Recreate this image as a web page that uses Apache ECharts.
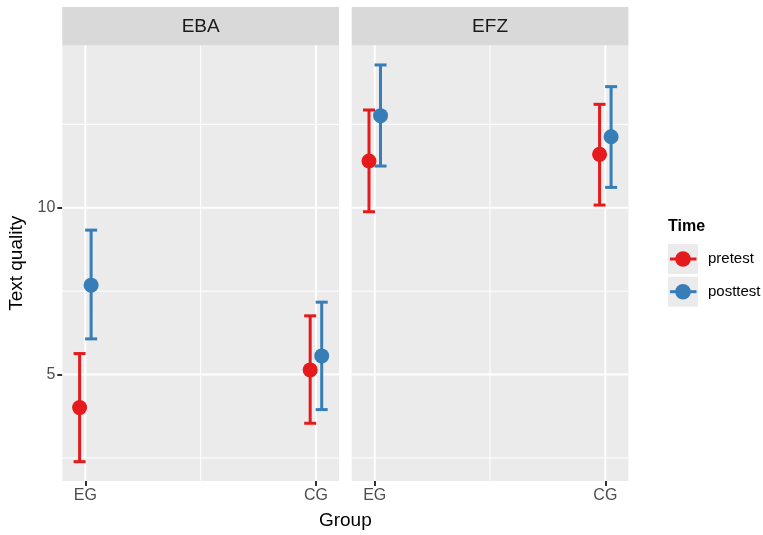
<!DOCTYPE html>
<html>
<head>
<meta charset="utf-8">
<script src="https://cdn.jsdelivr.net/npm/echarts@6/dist/echarts.min.js"></script>
<style>html,body{margin:0;padding:0;background:#fff;}#c{width:763px;height:535px;}</style>
</head>
<body>
<div id="c"></div>
<script>
// ---- data ----
const panels = ['EBA', 'EFZ'];
const groups = ['EG', 'CG'];
const times = ['pretest', 'posttest'];
const yTicks = [5, 10];
const yMinorGrid = [2.5, 7.5, 12.5];

const ebaPreMean  = [4.01, 5.14];
const ebaPreLow   = [2.39, 3.54];
const ebaPreHigh  = [5.63, 6.76];
const ebaPostMean = [7.68, 5.56];
const ebaPostLow  = [6.07, 3.95];
const ebaPostHigh = [9.33, 7.17];

const efzPreMean  = [11.40, 11.60];
const efzPreLow   = [9.88, 10.08];
const efzPreHigh  = [12.93, 13.10];
const efzPostMean = [12.76, 12.13];
const efzPostLow  = [11.25, 10.61];
const efzPostHigh = [14.28, 13.63];

const colors = ['#E41A1C', '#377EB8'];
const FONT = '"Liberation Sans", Arial, Helvetica, sans-serif';
const dodge = 0.025;

const panelData = [
  [[ebaPreMean, ebaPreLow, ebaPreHigh], [ebaPostMean, ebaPostLow, ebaPostHigh]],
  [[efzPreMean, efzPreLow, efzPreHigh], [efzPostMean, efzPostLow, efzPostHigh]]
];

const chart = echarts.init(document.getElementById('c'), null, {renderer: 'canvas'});

const gridTop = 45.6, gridH = 435.4, gridW = 276.7;
const gridLefts = [62.3, 351.7];

const grids = gridLefts.map(l => ({
  left: l, top: gridTop, width: gridW, height: gridH,
  show: true, backgroundColor: '#EBEBEB', borderWidth: 0, containLabel: false
}));

const xAxes = panels.map((p, i) => ({
  type: 'value', gridIndex: i, min: 0.9, max: 2.1,
  axisLine: {show: false}, splitLine: {show: false},
  axisTick: {show: true, customValues: [1, 2], length: 5, lineStyle: {color: '#333333', width: 2}},
  axisLabel: {show: true, customValues: [1, 2], formatter: v => groups[Math.round(v) - 1] || '',
    color: '#4D4D4D', fontSize: 16, fontFamily: FONT, margin: 7}
}));

const yAxes = panels.map((p, i) => ({
  type: 'value', gridIndex: i, min: 1.81, max: 14.86,
  axisLine: {show: false}, splitLine: {show: false},
  axisTick: {show: i === 0, customValues: yTicks, length: 5, lineStyle: {color: '#333333', width: 2}},
  axisLabel: {show: i === 0, customValues: yTicks, color: '#4D4D4D', fontSize: 16, fontFamily: FONT, margin: 7}
}));

// gridline definitions: [value, orientation(0 = horizontal, 1 = vertical), width]
const gridLineData = [];
yTicks.forEach(v => gridLineData.push([v, 0, 2]));
yMinorGrid.forEach(v => gridLineData.push([v, 0, 1]));
[1, 2].forEach(v => gridLineData.push([v, 1, 2]));
gridLineData.push([1.5, 1, 1]);

const series = [];
panels.forEach((p, pi) => {
  series.push({
    type: 'custom', xAxisIndex: pi, yAxisIndex: pi, z: 1, silent: true,
    data: gridLineData,
    encode: {x: [], y: []},
    renderItem: function (params, api) {
      const cs = params.coordSys;
      const v = api.value(0), o = api.value(1), w = api.value(2);
      let shape;
      if (o === 0) {
        const y = api.coord([1.5, v])[1];
        shape = {x1: cs.x, y1: y, x2: cs.x + cs.width, y2: y};
      } else {
        const x = api.coord([v, 8])[0];
        shape = {x1: x, y1: cs.y, x2: x, y2: cs.y + cs.height};
      }
      return {type: 'line', shape: shape, style: {stroke: '#FFFFFF', lineWidth: w}};
    }
  });
  times.forEach((t, ti) => {
    const [mean, low, high] = panelData[pi][ti];
    const off = ti === 0 ? -dodge : dodge;
    series.push({
      type: 'custom', name: t, xAxisIndex: pi, yAxisIndex: pi, z: 2, silent: true,
      data: groups.map((g, gi) => [gi + 1 + off, low[gi], high[gi]]),
      encode: {x: 0, y: [1, 2]},
      renderItem: function (params, api) {
        const x = api.value(0);
        const a = api.coord([x, api.value(1)]);
        const b = api.coord([x, api.value(2)]);
        const hw = 6;
        const st = {stroke: colors[ti], lineWidth: 3};
        return {type: 'group', children: [
          {type: 'line', shape: {x1: a[0], y1: a[1], x2: b[0], y2: b[1]}, style: st},
          {type: 'line', shape: {x1: a[0] - hw, y1: a[1], x2: a[0] + hw, y2: a[1]}, style: st},
          {type: 'line', shape: {x1: b[0] - hw, y1: b[1], x2: b[0] + hw, y2: b[1]}, style: st}
        ]};
      }
    });
  });
  times.forEach((t, ti) => {
    const mean = panelData[pi][ti][0];
    const off = ti === 0 ? -dodge : dodge;
    series.push({
      type: 'scatter', name: t, xAxisIndex: pi, yAxisIndex: pi, z: 3, silent: true,
      symbol: 'circle', symbolSize: 15,
      itemStyle: {color: colors[ti], opacity: 1},
      data: groups.map((g, gi) => [gi + 1 + off, mean[gi]])
    });
  });
});

const graphics = [];
panels.forEach((p, pi) => {
  graphics.push({type: 'rect', left: gridLefts[pi], top: 7, silent: true,
    shape: {x: 0, y: 0, width: gridW, height: gridTop - 7}, style: {fill: '#D9D9D9'}});
  graphics.push({type: 'text', x: gridLefts[pi] + gridW / 2, y: 27, silent: true,
    style: {text: p, fill: '#1A1A1A', font: '19px ' + FONT, textAlign: 'center', textVerticalAlign: 'middle'}});
});
// axis titles
graphics.push({type: 'text', x: 17, y: gridTop + gridH / 2, rotation: Math.PI / 2, silent: true,
  style: {text: 'Text quality', fill: '#000', font: '19px ' + FONT, textAlign: 'center', textVerticalAlign: 'middle'}});
graphics.push({type: 'text', x: (gridLefts[0] + gridLefts[1] + gridW) / 2, y: 521, silent: true,
  style: {text: 'Group', fill: '#000', font: '19px ' + FONT, textAlign: 'center', textVerticalAlign: 'middle'}});
// legend
graphics.push({type: 'text', x: 668, y: 227, silent: true,
  style: {text: 'Time', fill: '#000', font: 'bold 16px ' + FONT, textAlign: 'left', textVerticalAlign: 'middle'}});
times.forEach((t, ti) => {
  const top = 244 + ti * 32.7;
  graphics.push({type: 'rect', silent: true, shape: {x: 668, y: top, width: 30, height: 30}, style: {fill: '#EBEBEB'}});
  graphics.push({type: 'line', silent: true, shape: {x1: 670, y1: top + 15, x2: 696.5, y2: top + 15},
    style: {stroke: colors[ti], lineWidth: 3}});
  graphics.push({type: 'circle', silent: true, shape: {cx: 683, cy: top + 15, r: 7.8}, style: {fill: colors[ti]}});
  graphics.push({type: 'text', x: 708, y: top + 15, silent: true,
    style: {text: t, fill: '#000', font: '15px ' + FONT, textAlign: 'left', textVerticalAlign: 'middle'}});
});

chart.setOption({
  animation: false,
  backgroundColor: '#FFFFFF',
  grid: grids,
  xAxis: xAxes,
  yAxis: yAxes,
  series: series,
  graphic: graphics
});
</script>
</body>
</html>
